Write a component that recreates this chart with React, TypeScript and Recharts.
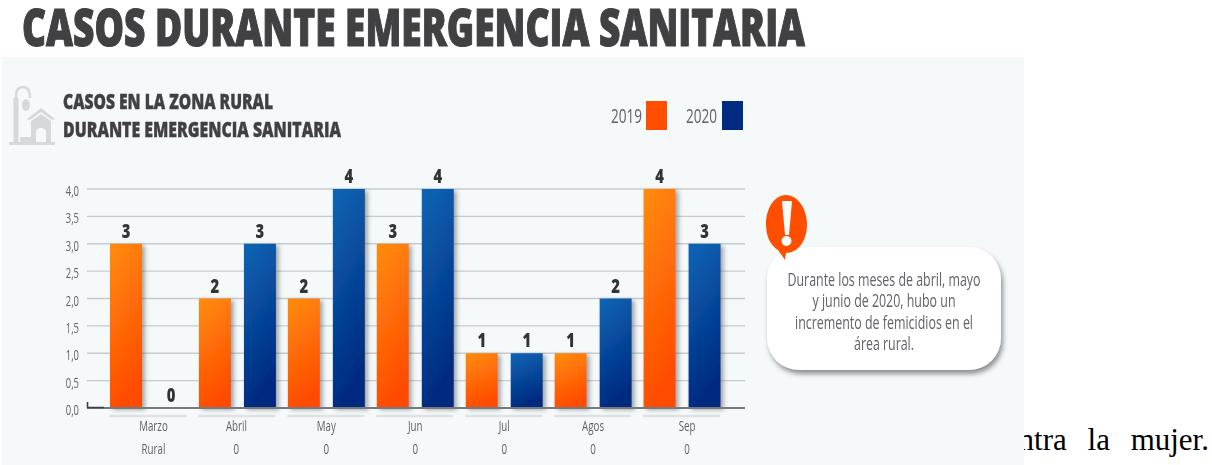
import { BarChart, Bar, XAxis, YAxis, CartesianGrid, LabelList, Legend } from "recharts"

const months = ["Marzo", "Abril", "May", "Jun", "Jul", "Agos", "Sep"]
const rural = ["Rural", "0", "0", "0", "0", "0", "0"]
const cases2019 = [3, 2, 2, 3, 1, 1, 4]
const cases2020 = [0, 3, 4, 4, 1, 2, 3]
const yTicks = [0, 0.5, 1, 1.5, 2, 2.5, 3, 3.5, 4]
const noteLines = [
  "Durante los meses de abril, mayo",
  "y junio de 2020, hubo un",
  "incremento de femicidios en el",
  "área rural.",
]

const data = months.map((month, i) => ({
  month,
  rural: rural[i],
  y2019: cases2019[i],
  y2020: cases2020[i],
}))

const FONT = "'Open Sans', sans-serif"
const DARK = "#414042"
const GREY = "#5f6267"

// month labels in the source sit a little off the band centre
const tickNudge = [5, -1, 0, 0, 0, 0, 5]
// widths and baselines of the four lines in the note
const noteWidths = [193, 143, 178, 60]
const noteBaselines = [286, 307, 329, 350]

// Open Sans squeezed horizontally, the original uses a condensed face
function Narrow({ x, y, scale = 0.65, anchor = "middle", children, ...rest }: any) {
  return (
    <text transform={`translate(${x} ${y}) scale(${scale} 1)`} textAnchor={anchor} fontFamily={FONT} {...rest}>
      {children}
    </text>
  )
}

function MonthTick({ x, payload, index }: any) {
  const i = payload?.index ?? index
  const cx = x + (tickNudge[i] ?? 0)
  return (
    <g fill={GREY}>
      <line x1={x - 38} x2={x + 37} y1={416} y2={416} stroke="#dde2e3" strokeWidth={2.5} strokeLinecap="round" />
      <Narrow x={cx} y={431} fontSize={15}>{payload.value}</Narrow>
      <Narrow x={cx} y={454} fontSize={15}>{rural[i]}</Narrow>
    </g>
  )
}

function ValueTick({ x, y, payload }: any) {
  return (
    <Narrow x={x} y={y + 7} anchor="end" scale={0.63} fontSize={15} fill={GREY}>
      {payload.value.toFixed(1).replace(".", ",")}
    </Narrow>
  )
}

function BarShape({ x, y, width, height, fill }: any) {
  if (!height) {
    return <rect x={x} y={y - 1} width={width} height={2} fill="#3f4042" />
  }
  return <rect x={x} y={y} width={width} height={height} fill={fill} filter="url(#barShadow)" />
}

function ValueLabel({ x, y, width, value }: any) {
  return (
    <Narrow x={x + width / 2} y={y - 6} scale={0.78} fontWeight={800} fontSize={19} fill="#333336">
      {value}
    </Narrow>
  )
}

function LegendBox() {
  return (
    <svg width={140} height={34} style={{ display: "block" }}>
      <g fontFamily={FONT} fontSize={20} fill={GREY}>
        <text x={0} y={23} textLength={31} lengthAdjust="spacingAndGlyphs">2019</text>
        <text x={75} y={23} textLength={31} lengthAdjust="spacingAndGlyphs">2020</text>
      </g>
      <rect x={35} y={1} width={21} height={29} fill="#ff4e00" />
      <rect x={111} y={1} width={21} height={29} fill="#002b80" />
    </svg>
  )
}

function RuralIcon() {
  const c = "#d6d9db"
  return (
    <g transform="translate(8 84)">
      <path d="M8 58 V12 Q8 3 15 3 Q22 3 22 14" fill="none" stroke={c} strokeWidth={2.5} />
      <rect x={5.5} y={14} width={5} height={44} fill={c} />
      <ellipse cx={18} cy={21} rx={4} ry={6} fill={c} />
      <path d="M19 35 L33 24 L47 35 L44 36 L33 28 L22 36 Z" fill={c} />
      <path d="M23 37 L33 30 L43 37 V58 H38 V49 Q38 44 33 44 Q28 44 28 49 V58 H23 Z" fill={c} />
      <rect x={12} y={53} width={14} height={5} rx={2} fill={c} />
      <rect x={1} y={58} width={46} height={3} fill={c} />
    </g>
  )
}

function Backdrop() {
  return (
    <svg width={1212} height={465} style={{ position: "absolute", left: 0, top: 0 }}>
      <defs>
        <filter id="noteShadow" x="-10%" y="-10%" width="125%" height="130%">
          <feDropShadow dx={2} dy={4} stdDeviation={2.5} floodColor="#464b50" floodOpacity={0.6} />
        </filter>
      </defs>
      <rect x={2} y={57} width={1022} height={408} fill="#f5f9fa" />
      <g fontFamily={FONT} fontWeight={800} fill={DARK} stroke={DARK}>
        <text x={22} y={46} fontSize={51} strokeWidth={1.2} textLength={783} lengthAdjust="spacingAndGlyphs">
          CASOS DURANTE EMERGENCIA SANITARIA
        </text>
        <text x={63} y={109} fontSize={21} strokeWidth={0.4} textLength={210} lengthAdjust="spacingAndGlyphs">
          CASOS EN LA ZONA RURAL
        </text>
        <text x={63} y={137} fontSize={21} strokeWidth={0.4} textLength={278} lengthAdjust="spacingAndGlyphs">
          DURANTE EMERGENCIA SANITARIA
        </text>
      </g>
      <RuralIcon />
      <rect x={767} y={247} width={234} height={123} rx={32} fill="#fff" filter="url(#noteShadow)" />
      <g fontFamily={FONT} fontSize={18.5} fill={GREY}>
        {noteLines.map((line, i) => (
          <text key={line} x={884 - noteWidths[i] / 2} y={noteBaselines[i]} textLength={noteWidths[i]} lengthAdjust="spacingAndGlyphs">
            {line}
          </text>
        ))}
      </g>
      <path d="M786 195 C798 195 807 209 807 224 C807 241 798 253 786 253 L785 260 L778 250 C770 245 766 236 766 224 C766 209 774 195 786 195 Z" fill="#ff4e00" />
      <path d="M782 201 H792 L789 235 H785 Z" fill="#fff" />
      <circle cx={786.5} cy={241} r={5} fill="#fff" />
    </svg>
  )
}

export default function App() {
  return (
    <div style={{ position: "absolute", left: 0, top: 0, width: 1212, height: 465, background: "#fff", overflow: "hidden" }}>
      {/* body text of the page the chart was pasted over, cut by the panel */}
      <div
        style={{
          position: "absolute",
          right: 3,
          top: 422,
          fontFamily: "'Liberation Serif', serif",
          fontSize: 31,
          wordSpacing: 13,
          whiteSpace: "nowrap",
          color: "#000",
        }}
      >
        contra la mujer.
      </div>

      <div style={{ position: "absolute", left: 0, top: 0, width: 1212, height: 465, filter: "blur(0.45px)" }}>
        <Backdrop />
        <div style={{ position: "absolute", left: 0, top: 0 }}>
          <BarChart
            width={1024}
            height={465}
            data={data}
            margin={{ top: 189, right: 279, bottom: 56, left: 47 }}
            barSize={32}
            barGap={13}
          >
            <defs>
              <linearGradient id="orangeBar" x1="0" y1="0" x2="0.25" y2="1">
                <stop offset="0%" stopColor="#ff8c0f" />
                <stop offset="100%" stopColor="#ff4c00" />
              </linearGradient>
              <linearGradient id="blueBar" x1="0" y1="0" x2="0.25" y2="1">
                <stop offset="0%" stopColor="#0d66b5" />
                <stop offset="100%" stopColor="#002a80" />
              </linearGradient>
              <filter id="barShadow" x="-30%" y="-10%" width="175%" height="125%">
                <feDropShadow dx={3} dy={2} stdDeviation={2} floodColor="#50565c" floodOpacity={0.5} />
              </filter>
            </defs>
            <CartesianGrid vertical={false} stroke="#c6cbce" strokeWidth={1.3} />
            <XAxis
              dataKey="month"
              height={1}
              interval={0}
              padding={{ left: 17, right: 18.5 }}
              axisLine={{ stroke: "#77797c", strokeWidth: 2 }}
              tickLine={false}
              tick={<MonthTick />}
            />
            <YAxis
              width={40}
              domain={[0, 4]}
              ticks={yTicks}
              axisLine={false}
              tickLine={false}
              tick={<ValueTick />}
            />
            <Legend
              layout="horizontal"
              verticalAlign="middle"
              align="center"
              content={<LegendBox />}
              wrapperStyle={{ left: 611, top: 100, width: 140 }}
            />
            <Bar dataKey="y2019" name="2019" fill="url(#orangeBar)" shape={<BarShape />} isAnimationActive={false}>
              <LabelList dataKey="y2019" content={<ValueLabel />} />
            </Bar>
            <Bar dataKey="y2020" name="2020" fill="url(#blueBar)" shape={<BarShape />} isAnimationActive={false}>
              <LabelList dataKey="y2020" content={<ValueLabel />} />
            </Bar>
          </BarChart>
          <svg width={120} height={20} style={{ position: "absolute", left: 80, top: 398 }}>
            <path d="M7.5 4 V9.5 H24" fill="none" stroke="#3f4042" strokeWidth={1.6} />
          </svg>
        </div>
      </div>
    </div>
  )
}
